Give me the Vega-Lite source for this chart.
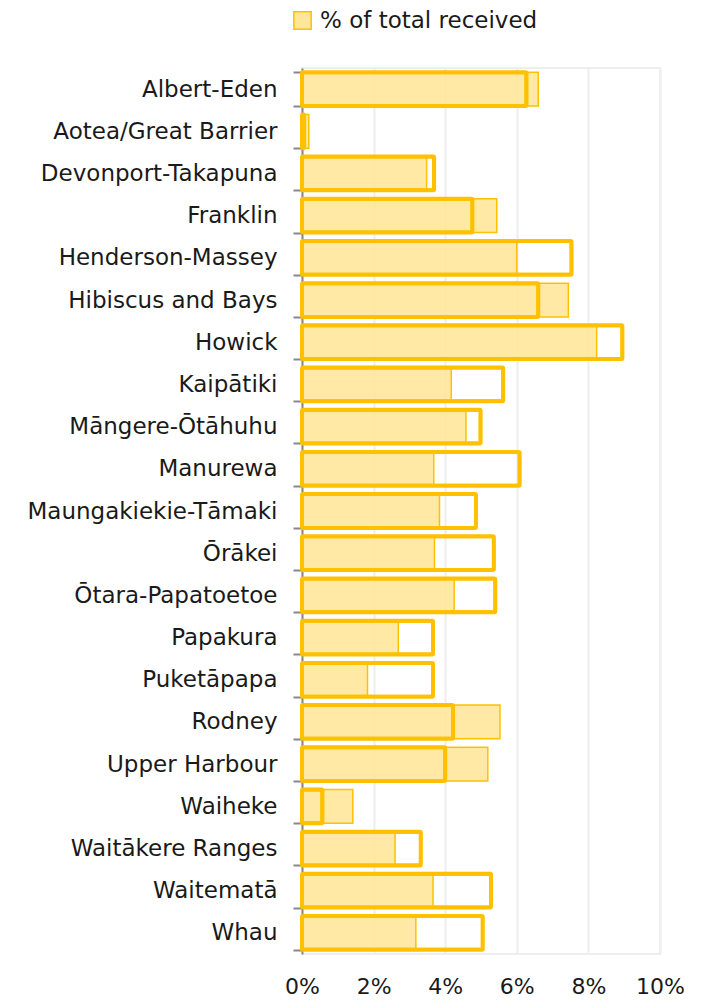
{
  "$schema": "https://vega.github.io/schema/vega-lite/v6.json",
  "width": 358,
  "height": 886,
  "autosize": {"type": "none"},
  "padding": {"left": 302, "top": 68, "right": 41, "bottom": 49},
  "background": "white",
  "config": {
    "font": "DejaVu Sans",
    "view": {"stroke": "#eeeeee", "strokeWidth": 2}
  },
  "data": {
    "values": [
      {"district": "Albert-Eden", "pct_received": 6.6, "pct_other": 6.27},
      {"district": "Aotea/Great Barrier", "pct_received": 0.19, "pct_other": 0.06},
      {"district": "Devonport-Takapuna", "pct_received": 3.48, "pct_other": 3.69},
      {"district": "Franklin", "pct_received": 5.44, "pct_other": 4.76},
      {"district": "Henderson-Massey", "pct_received": 6.0, "pct_other": 7.53},
      {"district": "Hibiscus and Bays", "pct_received": 7.44, "pct_other": 6.6},
      {"district": "Howick", "pct_received": 8.23, "pct_other": 8.95},
      {"district": "Kaipātiki", "pct_received": 4.17, "pct_other": 5.62},
      {"district": "Māngere-Ōtāhuhu", "pct_received": 4.58, "pct_other": 4.99},
      {"district": "Manurewa", "pct_received": 3.68, "pct_other": 6.08},
      {"district": "Maungakiekie-Tāmaki", "pct_received": 3.84, "pct_other": 4.86},
      {"district": "Ōrākei", "pct_received": 3.7, "pct_other": 5.36},
      {"district": "Ōtara-Papatoetoe", "pct_received": 4.25, "pct_other": 5.4},
      {"district": "Papakura", "pct_received": 2.69, "pct_other": 3.66},
      {"district": "Puketāpapa", "pct_received": 1.83, "pct_other": 3.66},
      {"district": "Rodney", "pct_received": 5.53, "pct_other": 4.22},
      {"district": "Upper Harbour", "pct_received": 5.19, "pct_other": 4.0},
      {"district": "Waiheke", "pct_received": 1.42, "pct_other": 0.57},
      {"district": "Waitākere Ranges", "pct_received": 2.6, "pct_other": 3.32},
      {"district": "Waitematā", "pct_received": 3.66, "pct_other": 5.28},
      {"district": "Whau", "pct_received": 3.18, "pct_other": 5.05}
    ]
  },
  "encoding": {
    "y": {
      "field": "district",
      "type": "nominal",
      "sort": null,
      "scale": {"paddingInner": 0.2, "paddingOuter": 0.1},
      "axis": {
        "title": null,
        "labelFontSize": 23,
        "labelColor": "#1a1a1a",
        "labelPadding": 16,
        "tickBand": "extent",
        "tickSize": 9,
        "tickColor": "#888888",
        "tickWidth": 2,
        "domainColor": "#888888",
        "domainWidth": 2,
        "labelLimit": 320
      }
    },
    "x": {
      "type": "quantitative",
      "scale": {"domain": [0, 10]},
      "axis": {
        "title": null,
        "values": [0, 2, 4, 6, 8, 10],
        "labelExpr": "datum.value + '%'",
        "labelFontSize": 22,
        "labelColor": "#1a1a1a",
        "labelPadding": 22,
        "labelFlush": false,
        "labelOverlap": false,
        "ticks": false,
        "domain": false,
        "gridColor": "#eeeeee",
        "gridWidth": 2
      }
    }
  },
  "layer": [
    {
      "mark": {"type": "bar", "stroke": "#FFC000", "strokeWidth": 1.5, "fillOpacity": 0.88},
      "encoding": {
        "x": {"field": "pct_received", "type": "quantitative"},
        "color": {
          "datum": "% of total received",
          "type": "nominal",
          "scale": {"range": ["#FFE699"]},
          "legend": {
            "title": null,
            "orient": "none",
            "legendX": -11,
            "legendY": -59,
            "symbolType": "square",
            "symbolSize": 300,
            "symbolStrokeColor": "#FFC000",
            "symbolStrokeWidth": 1.5,
            "symbolOpacity": 1,
            "labelFontSize": 23,
            "labelColor": "#1a1a1a",
            "labelOffset": 6,
            "labelLimit": 400
          }
        }
      }
    },
    {
      "mark": {"type": "bar", "fill": null, "fillOpacity": 0, "stroke": "#FFC000", "strokeWidth": 4, "cornerRadius": 1},
      "encoding": {
        "x": {"field": "pct_other", "type": "quantitative"}
      }
    }
  ]
}
